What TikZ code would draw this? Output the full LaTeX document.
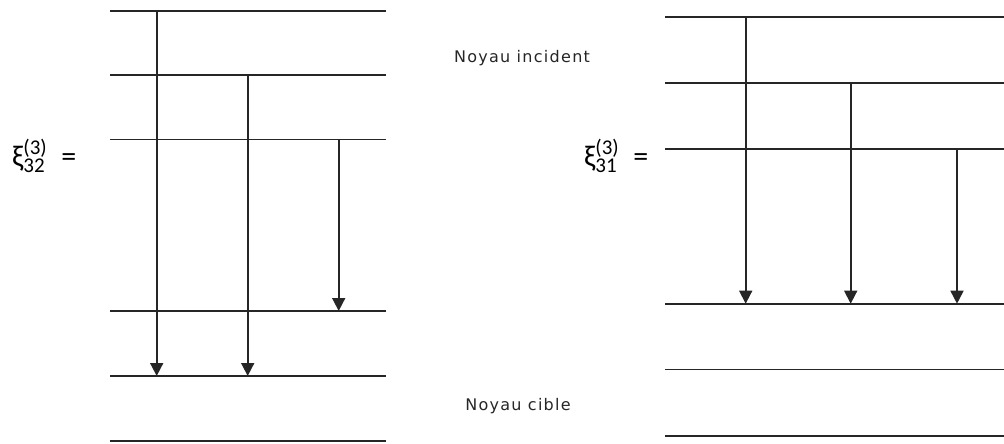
\documentclass[tikz,border=0pt]{standalone}
\usepackage{fontspec}
\newfontfamily\lab[LetterSpace=8]{DejaVu Sans}
\newfontfamily\carl{Carlito}
\newcommand\smallcarl[1]{\mbox{\carl\fontsize{21}{23}\selectfont #1}}
\usetikzlibrary{arrows.meta}
\begin{document}
\begin{tikzpicture}[x=1pt,y=-1pt,
  level/.style={line width=1.7pt,black!85},
  trans/.style={line width=1.7pt,black!85,-{Triangle[length=13pt,width=13pt]}},
  lbl/.style={font=\lab\fontsize{16}{18}\selectfont,inner sep=0pt,text=black!85},
  eq/.style={font=\carl\fontsize{30}{34}\selectfont,inner sep=0pt}]
\useasboundingbox (0,0) rectangle (1004,444);
% left diagram levels
\foreach \n/\y in {a1/10.7,a2/75,a3/139.5,a4/311,a5/376,a6/440.7}{
  \coordinate (\n L) at (110,\y);
  \coordinate (\n R) at (386,\y);
  \draw[level] (\n L) -- (\n R);
}
\coordinate (la1) at (156.7,10.7);
\coordinate (la2) at (156.7,376);
\coordinate (lb1) at (247.7,75);
\coordinate (lb2) at (247.7,376);
\coordinate (lc1) at (338.7,139.5);
\coordinate (lc2) at (338.7,311);
\draw[trans] (la1) -- (la2);
\draw[trans] (lb1) -- (lb2);
\draw[trans] (lc1) -- (lc2);
% right diagram levels
\foreach \n/\y in {b1/17,b2/83,b3/149.3,b4/303.7,b5/369.5,b6/435.7}{
  \coordinate (\n L) at (665,\y);
  \coordinate (\n R) at (1004,\y);
  \draw[level] (\n L) -- (\n R);
}
\coordinate (ra1) at (745.7,17);
\coordinate (ra2) at (745.7,303.7);
\coordinate (rb1) at (850.7,83);
\coordinate (rb2) at (850.7,303.7);
\coordinate (rc1) at (957,149.3);
\coordinate (rc2) at (957,303.7);
\draw[trans] (ra1) -- (ra2);
\draw[trans] (rb1) -- (rb2);
\draw[trans] (rc1) -- (rc2);
% labels
\node[lbl] (inc) at (522,58) {Noyau incident};
\node[lbl] (cib) at (518,406) {Noyau cible};
\node[eq,anchor=west] (x32) at (12,156) {$\mbox{ξ}^{\smallcarl{(3)}}_{\smallcarl{32}}\hspace{14pt}\mbox{=}$};
\node[eq,anchor=west] (x31) at (584,156) {$\mbox{ξ}^{\smallcarl{(3)}}_{\smallcarl{31}}\hspace{14pt}\mbox{=}$};
\end{tikzpicture}
\end{document}
